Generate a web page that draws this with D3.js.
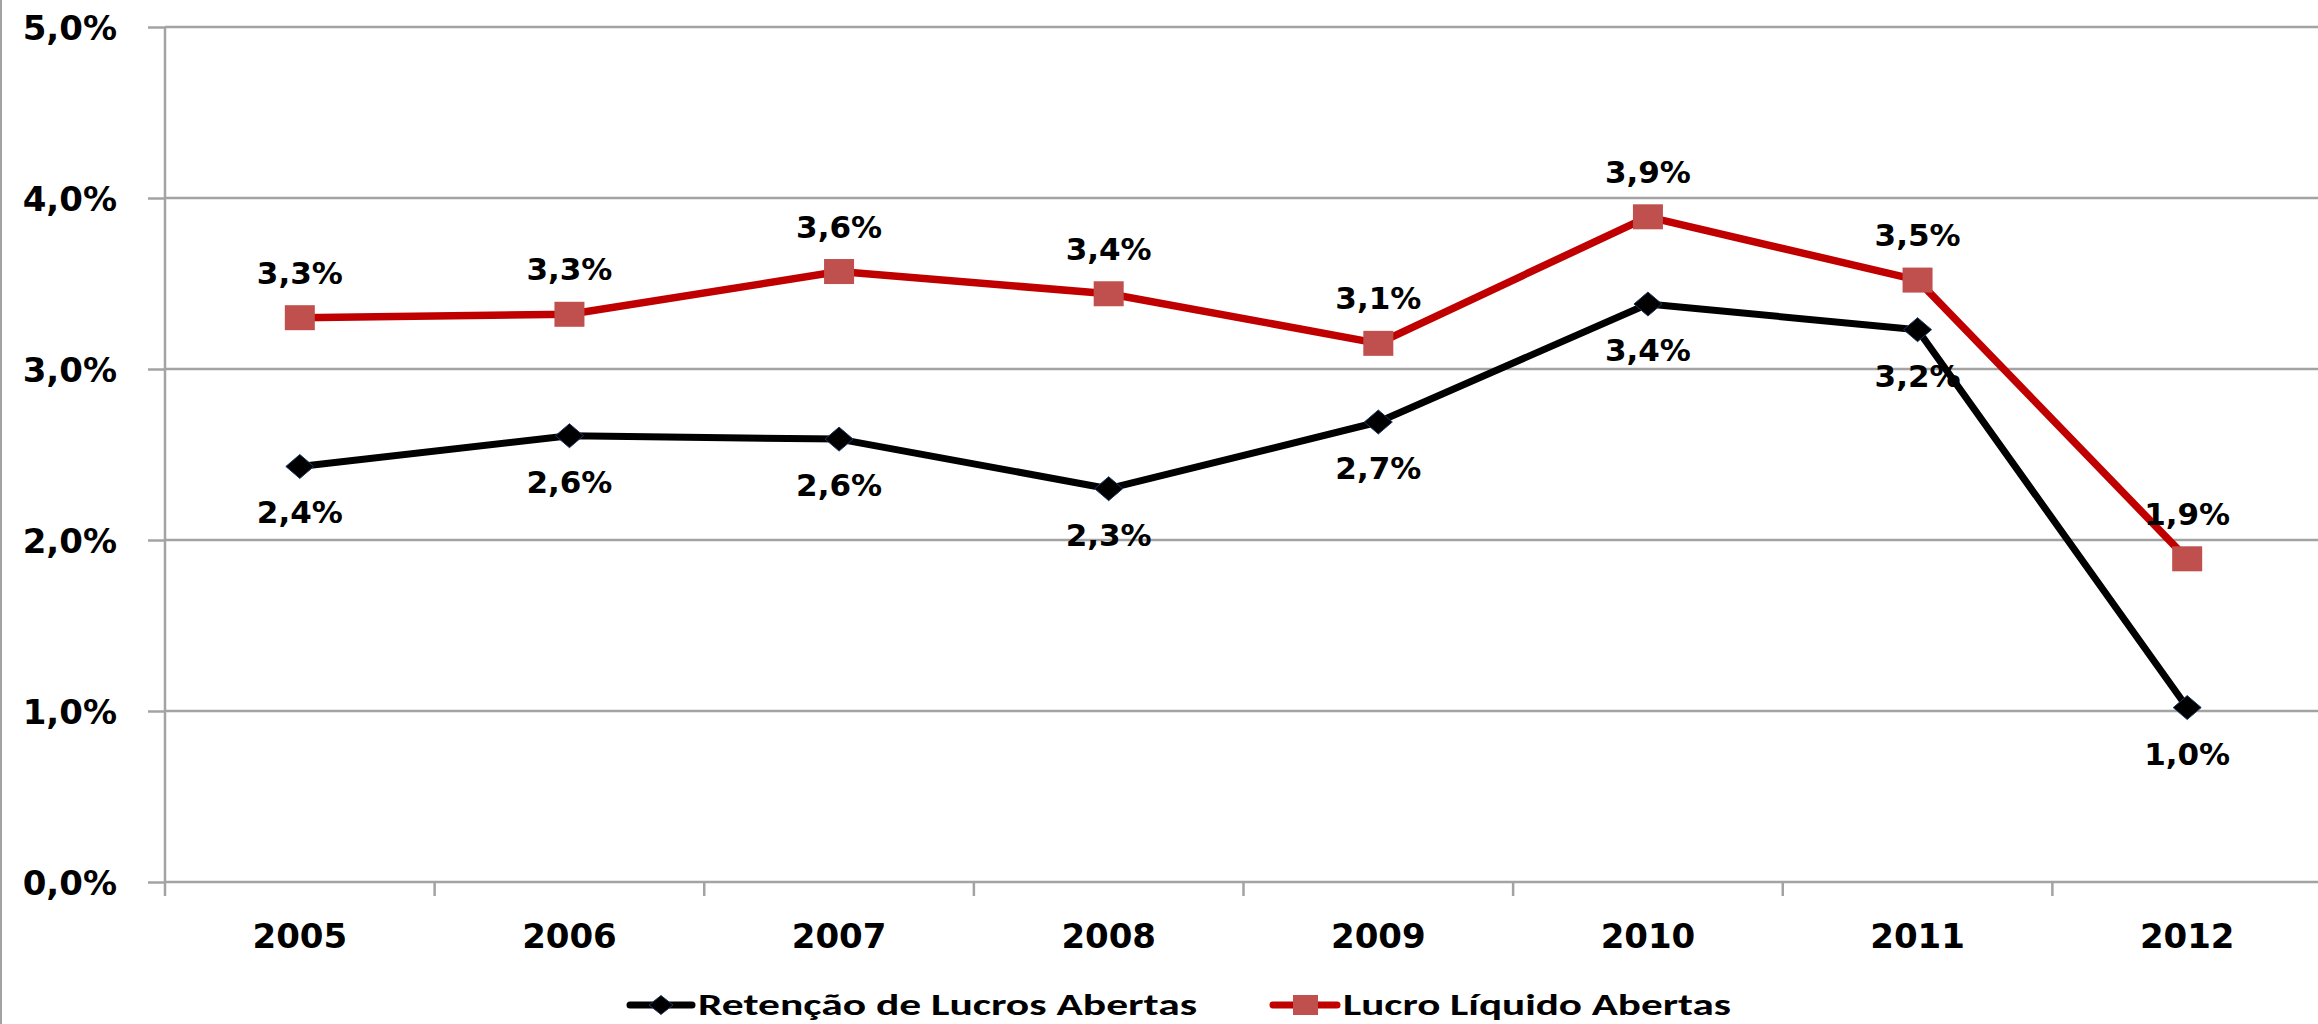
<!DOCTYPE html>
<html>
<head>
<meta charset="utf-8">
<script src="https://cdn.jsdelivr.net/npm/d3@7"></script>
<style>
  html, body { margin: 0; padding: 0; background: #fff; }
  svg { display: block; }
</style>
</head>
<body>
<svg id="chart" width="2318" height="1024"></svg>
<script>
// ---- data ----
const years = ["2005", "2006", "2007", "2008", "2009", "2010", "2011", "2012"];
const retencao = [2.43, 2.61, 2.59, 2.30, 2.69, 3.38, 3.23, 1.02];   // Retenção de Lucros Abertas (%)
const lucro    = [3.30, 3.32, 3.57, 3.44, 3.15, 3.89, 3.52, 1.89];   // Lucro Líquido Abertas (%)
const retencaoLabels = ["2,4%", "2,6%", "2,6%", "2,3%", "2,7%", "3,4%", "3,2%", "1,0%"];
const lucroLabels    = ["3,3%", "3,3%", "3,6%", "3,4%", "3,1%", "3,9%", "3,5%", "1,9%"];
const yTicks = [0, 1, 2, 3, 4, 5];
const seriesNames = ["Retenção de Lucros Abertas", "Lucro Líquido Abertas"];

// ---- layout ----
const W = 2318, H = 1024;
const plotLeft = 165, plotRight = 2322, plotTop = 27, plotBottom = 882;
const svg = d3.select("#chart");
svg.append("rect").attr("width", W).attr("height", H).attr("fill", "#fff");

const x = d3.scaleBand().domain(years).range([plotLeft, plotRight]).paddingInner(0).paddingOuter(0);
const y = d3.scaleLinear().domain([0, 5]).range([plotBottom, plotTop]);
const fmt = d => d3.format(".1f")(d).replace(".", ",") + "%";

const gridColor = "#a3a3a3";
const labelFont = "'DejaVu Sans', Verdana, sans-serif";

// left chart border
svg.append("line").attr("x1", 1).attr("x2", 1).attr("y1", 0).attr("y2", H)
  .attr("stroke", gridColor).attr("stroke-width", 2);

// gridlines
svg.append("g").selectAll("line").data(yTicks).join("line")
  .attr("x1", plotLeft).attr("x2", W)
  .attr("y1", d => y(d)).attr("y2", d => y(d))
  .attr("stroke", gridColor).attr("stroke-width", 2.5);

// y axis
const yAxis = svg.append("g").attr("transform", `translate(${plotLeft},0)`)
  .call(d3.axisLeft(y).tickValues(yTicks).tickFormat(fmt).tickSize(17).tickSizeOuter(0).tickPadding(31));
yAxis.select(".domain").attr("stroke", gridColor).attr("stroke-width", 2.5)
  .attr("d", `M0,${plotTop}V${plotBottom + 14}`);
yAxis.selectAll(".tick line").attr("stroke", gridColor).attr("stroke-width", 2.5);
yAxis.selectAll(".tick text").attr("font-family", labelFont).attr("font-weight", "bold")
  .attr("font-size", 34).attr("fill", "#000").attr("dy", "0.36em");

// x axis
const xAxis = svg.append("g").attr("transform", `translate(0,${plotBottom})`)
  .call(d3.axisBottom(x).tickSize(0).tickSizeOuter(0));
xAxis.select(".domain").remove();
xAxis.selectAll(".tick text").attr("font-family", labelFont).attr("font-weight", "bold")
  .attr("font-size", 34).attr("fill", "#000").attr("y", 66).attr("dy", null);
// boundary ticks
const bounds = years.map(d => x(d)).concat([x(years[years.length - 1]) + x.bandwidth()]);
svg.append("g").selectAll("line").data(bounds.slice(1)).join("line")
  .attr("x1", d => d).attr("x2", d => d)
  .attr("y1", plotBottom).attr("y2", plotBottom + 14)
  .attr("stroke", gridColor).attr("stroke-width", 2.5);

const cx = d => x(d) + x.bandwidth() / 2;

// lines
const lineGen = d3.line().x(d => cx(d.year)).y(d => y(d.v));
const retData = years.map((yr, i) => ({ year: yr, v: retencao[i], label: retencaoLabels[i] }));
const lucData = years.map((yr, i) => ({ year: yr, v: lucro[i], label: lucroLabels[i] }));

svg.append("path").datum(retData).attr("d", lineGen)
  .attr("fill", "none").attr("stroke", "#000").attr("stroke-width", 7).attr("stroke-linejoin", "round");
svg.append("path").datum(lucData).attr("d", lineGen)
  .attr("fill", "none").attr("stroke", "#c00000").attr("stroke-width", 7.5).attr("stroke-linejoin", "round");

// markers
const diamond = (w, h) => `M0,${-h / 2}L${w / 2},0L0,${h / 2}L${-w / 2},0Z`;
svg.append("g").selectAll("path").data(retData).join("path")
  .attr("transform", d => `translate(${cx(d.year)},${y(d.v)})`)
  .attr("d", diamond(28, 24)).attr("fill", "#000").attr("stroke", "#1f3864").attr("stroke-width", 1);
svg.append("g").selectAll("rect").data(lucData).join("rect")
  .attr("x", d => cx(d.year) - 15).attr("y", d => y(d.v) - 12.5)
  .attr("width", 30).attr("height", 25).attr("fill", "#c0504d");

// data labels
svg.append("g").selectAll("text").data(retData).join("text")
  .attr("x", d => cx(d.year)).attr("y", d => y(d.v) + 57)
  .attr("text-anchor", "middle").attr("font-family", labelFont).attr("font-weight", "bold")
  .attr("font-size", 31).attr("fill", "#000").text(d => d.label);
svg.append("g").selectAll("text").data(lucData).join("text")
  .attr("x", d => cx(d.year)).attr("y", d => y(d.v) - 34)
  .attr("text-anchor", "middle").attr("font-family", labelFont).attr("font-weight", "bold")
  .attr("font-size", 31).attr("fill", "#000").text(d => d.label);

// legend
const legFont = "Carlito, 'Open Sans', sans-serif";
const lg = svg.append("g");
lg.append("line").attr("x1", 630).attr("x2", 692).attr("y1", 1005).attr("y2", 1005)
  .attr("stroke", "#000").attr("stroke-width", 7).attr("stroke-linecap", "round");
lg.append("path").attr("transform", "translate(661,1005)").attr("d", diamond(24, 19))
  .attr("fill", "#000").attr("stroke", "#1f3864").attr("stroke-width", 1);
lg.append("text").attr("x", 698).attr("y", 1015).attr("font-family", legFont).attr("font-weight", "bold")
  .attr("font-size", 31).attr("fill", "#000")
  .attr("textLength", 499).attr("lengthAdjust", "spacingAndGlyphs").text(seriesNames[0]);
lg.append("line").attr("x1", 1273).attr("x2", 1337).attr("y1", 1005).attr("y2", 1005)
  .attr("stroke", "#c00000").attr("stroke-width", 7).attr("stroke-linecap", "round");
lg.append("rect").attr("x", 1293).attr("y", 995).attr("width", 25).attr("height", 20).attr("fill", "#c0504d");
lg.append("text").attr("x", 1343).attr("y", 1015).attr("font-family", legFont).attr("font-weight", "bold")
  .attr("font-size", 31).attr("fill", "#000")
  .attr("textLength", 388).attr("lengthAdjust", "spacingAndGlyphs").text(seriesNames[1]);
</script>
</body>
</html>
